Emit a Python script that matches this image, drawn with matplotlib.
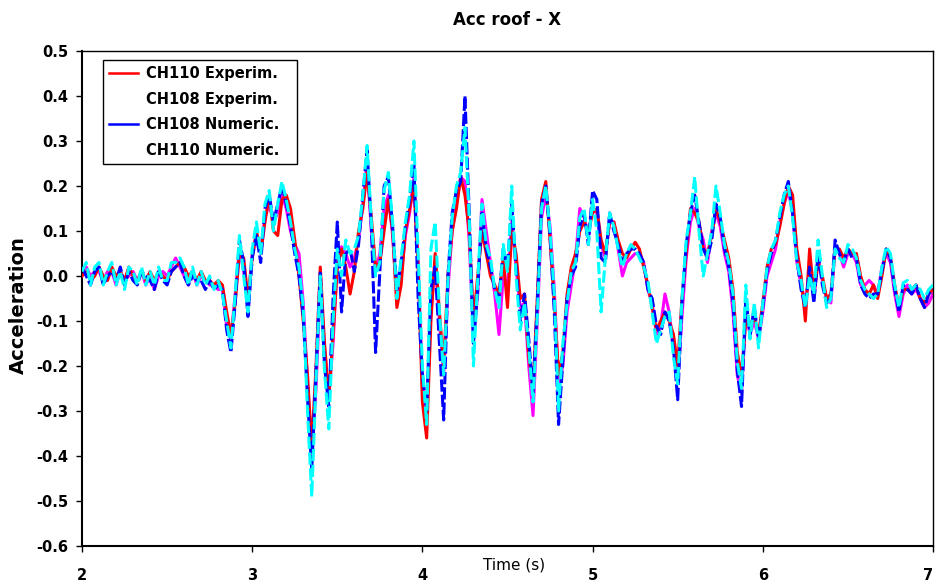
import numpy as np
import matplotlib
matplotlib.use("Agg")
import matplotlib.pyplot as plt
from matplotlib.lines import Line2D

title = "Acc roof - X"
xlabel = "Time (s)"
ylabel = "Acceleration"
series_names = ["CH110 Experim.", "CH108 Experim.", "CH108 Numeric.", "CH110 Numeric."]
xticks = [2, 3, 4, 5, 6, 7]
yticks = [0.5, 0.4, 0.3, 0.2, 0.1, 0.0, -0.1, -0.2, -0.3, -0.4, -0.5, -0.6]

t_start = 2.0
t_step = 0.025

ch110_exp = [
    0.00, 0.01, -0.01, 0.00, 0.02, 0.00, -0.01, 0.02, 0.00, 0.01, -0.01, 0.02, 0.00, -0.01, 0.01, -0.01, 0.01, -0.01, 0.01, 0.00,
    -0.01, 0.01, 0.02, 0.03, 0.02, 0.00, 0.01, -0.01, 0.01, -0.01, -0.01, -0.02, -0.01, -0.02, -0.08, -0.13, -0.06, 0.05, 0.04, -0.05,
    0.04, 0.10, 0.05, 0.12, 0.18, 0.10, 0.09, 0.17, 0.18, 0.15, 0.08, 0.00, -0.10, -0.22, -0.38, -0.20, 0.02, -0.15, -0.27, -0.13,
    0.02, 0.06, 0.02, -0.04, 0.01, 0.10, 0.15, 0.23, 0.13, 0.02, 0.03, 0.10, 0.17, 0.10, -0.07, -0.02, 0.10, 0.15, 0.20, 0.02,
    -0.28, -0.36, -0.10, 0.05, -0.08, -0.20, 0.00, 0.10, 0.15, 0.22, 0.18, 0.10, -0.10, 0.00, 0.10, 0.05, 0.00, -0.02, -0.04, 0.04,
    -0.07, 0.10, 0.05, -0.05, -0.04, -0.18, -0.25, -0.05, 0.17, 0.21, 0.08, -0.06, -0.22, -0.17, -0.04, 0.02, 0.05, 0.10, 0.12, 0.10,
    0.14, 0.15, 0.08, 0.05, 0.12, 0.12, 0.08, 0.05, 0.04, 0.06, 0.075, 0.06, 0.02, -0.02, -0.07, -0.12, -0.10, -0.08, -0.10, -0.13,
    -0.20, -0.05, 0.05, 0.15, 0.14, 0.12, 0.06, 0.05, 0.09, 0.15, 0.12, 0.08, 0.04, -0.03, -0.17, -0.22, -0.10, -0.11, -0.09, -0.13,
    -0.06, 0.02, 0.06, 0.07, 0.11, 0.16, 0.20, 0.18, 0.06, 0.00, -0.10, 0.06, -0.04, 0.03, 0.00, -0.05, -0.04, 0.06, 0.06, 0.04,
    0.06, 0.05, 0.05, 0.00, -0.03, -0.04, -0.02, -0.05, 0.00, 0.06, 0.04, -0.02, -0.07, -0.03, -0.03, -0.03, -0.02, -0.05, -0.06, -0.04,
    -0.03,
]

ch108_exp = [
    0.01, 0.02, 0.00, 0.01, 0.01, -0.01, 0.01, 0.01, -0.02, 0.01, -0.01, 0.00, 0.01, -0.01, 0.01, -0.02, 0.00, -0.03, 0.00, 0.01,
    0.00, 0.02, 0.04, 0.02, 0.00, -0.02, 0.01, -0.02, 0.00, -0.01, -0.02, -0.02, -0.03, -0.03, -0.11, -0.14, -0.04, 0.06, 0.01, -0.06,
    0.05, 0.08, 0.06, 0.13, 0.16, 0.12, 0.14, 0.18, 0.15, 0.10, 0.07, 0.05, -0.06, -0.24, -0.40, -0.25, -0.02, -0.16, -0.27, -0.15,
    0.03, 0.065, 0.05, 0.02, 0.04, 0.08, 0.16, 0.25, 0.10, 0.01, 0.05, 0.15, 0.18, 0.09, -0.05, 0.00, 0.09, 0.14, 0.22, 0.03,
    -0.24, -0.30, -0.08, 0.03, -0.10, -0.22, -0.03, 0.10, 0.16, 0.22, 0.21, 0.08, -0.14, -0.04, 0.17, 0.10, 0.03, -0.04, -0.13, 0.00,
    -0.02, 0.12, 0.02, -0.07, -0.06, -0.20, -0.31, -0.10, 0.13, 0.18, 0.11, -0.03, -0.24, -0.20, -0.08, -0.02, 0.04, 0.15, 0.13, 0.09,
    0.15, 0.14, 0.07, 0.04, 0.12, 0.12, 0.06, 0.00, 0.03, 0.04, 0.05, 0.05, 0.03, -0.03, -0.06, -0.13, -0.11, -0.04, -0.08, -0.16,
    -0.23, -0.09, 0.04, 0.12, 0.15, 0.11, 0.08, 0.03, 0.10, 0.14, 0.11, 0.05, 0.01, -0.08, -0.22, -0.26, -0.08, -0.13, -0.10, -0.14,
    -0.08, 0.00, 0.03, 0.06, 0.12, 0.16, 0.19, 0.14, 0.03, -0.02, -0.06, 0.01, -0.05, 0.04, -0.01, -0.05, -0.06, 0.06, 0.05, 0.02,
    0.05, 0.05, 0.03, -0.02, -0.02, -0.01, -0.02, -0.04, 0.02, 0.05, 0.03, -0.04, -0.09, -0.04, -0.02, -0.04, -0.03, -0.05, -0.07, -0.06,
    -0.04,
]

ch108_num = [
    0.02, 0.00, -0.02, 0.01, 0.02, -0.02, 0.00, 0.01, -0.01, 0.02, -0.02, 0.01, -0.01, -0.02, 0.01, 0.00, -0.01, -0.03, 0.01, -0.01,
    -0.02, 0.01, 0.02, 0.03, 0.00, -0.02, 0.00, -0.01, -0.01, -0.03, -0.01, -0.03, -0.02, -0.03, -0.12, -0.17, -0.06, 0.08, 0.03, -0.09,
    0.04, 0.09, 0.03, 0.15, 0.18, 0.12, 0.16, 0.20, 0.16, 0.11, 0.05, 0.00, -0.09, -0.27, -0.43, -0.21, 0.01, -0.20, -0.29, -0.05,
    0.12, -0.08, 0.05, 0.06, 0.01, 0.07, 0.18, 0.28, 0.11, -0.17, 0.01, 0.20, 0.22, 0.11, -0.03, 0.03, 0.11, 0.17, 0.25, -0.05,
    -0.22, -0.30, -0.03, 0.02, -0.15, -0.32, 0.00, 0.14, 0.19, 0.21, 0.40, 0.14, -0.15, -0.03, 0.14, 0.06, 0.02, -0.03, -0.05, 0.06,
    0.02, 0.16, 0.02, -0.10, -0.04, -0.14, -0.26, -0.06, 0.16, 0.20, 0.09, -0.08, -0.33, -0.19, -0.05, 0.00, 0.02, 0.11, 0.14, 0.07,
    0.19, 0.17, 0.04, 0.03, 0.14, 0.10, 0.07, 0.03, 0.05, 0.06, 0.06, 0.05, 0.03, -0.03, -0.05, -0.11, -0.13, -0.08, -0.10, -0.16,
    -0.275, -0.06, 0.07, 0.14, 0.18, 0.12, 0.06, 0.04, 0.08, 0.16, 0.13, 0.06, 0.02, -0.06, -0.21, -0.29, -0.05, -0.13, -0.07, -0.14,
    -0.07, 0.01, 0.05, 0.08, 0.13, 0.18, 0.21, 0.14, 0.04, -0.03, -0.07, 0.02, -0.06, 0.05, -0.02, -0.06, -0.05, 0.08, 0.05, 0.03,
    0.06, 0.04, 0.04, -0.02, -0.04, -0.05, -0.04, -0.04, 0.01, 0.06, 0.04, -0.03, -0.08, -0.02, -0.03, -0.04, -0.02, -0.05, -0.07, -0.04,
    -0.03,
]

ch110_num = [
    0.01, 0.03, -0.02, 0.02, 0.03, -0.02, 0.01, 0.03, -0.02, 0.01, -0.03, 0.02, 0.01, -0.02, 0.02, -0.02, 0.01, -0.02, 0.02, -0.01,
    -0.01, 0.03, 0.03, 0.04, 0.02, -0.02, 0.02, -0.02, 0.01, -0.02, 0.00, -0.03, -0.01, -0.04, -0.10, -0.16, -0.04, 0.09, 0.00, -0.08,
    0.06, 0.12, 0.05, 0.16, 0.19, 0.10, 0.16, 0.21, 0.17, 0.12, 0.06, 0.02, -0.07, -0.30, -0.49, -0.23, 0.00, -0.21, -0.34, -0.10,
    0.06, 0.00, 0.08, 0.05, 0.06, 0.09, 0.18, 0.29, 0.12, 0.00, 0.03, 0.19, 0.23, 0.12, -0.05, 0.04, 0.12, 0.18, 0.30, 0.05,
    -0.20, -0.33, 0.06, 0.12, -0.08, -0.22, -0.01, 0.13, 0.20, 0.23, 0.33, 0.13, -0.20, -0.01, 0.16, 0.07, 0.04, -0.03, -0.07, 0.07,
    0.01, 0.20, 0.00, -0.12, -0.06, -0.16, -0.28, -0.09, 0.15, 0.20, 0.10, -0.04, -0.30, -0.15, -0.06, 0.01, 0.03, 0.13, 0.15, 0.07,
    0.17, 0.10, -0.08, 0.04, 0.14, 0.11, 0.06, 0.02, 0.05, 0.07, 0.06, 0.04, 0.02, -0.01, -0.08, -0.15, -0.12, -0.09, -0.08, -0.18,
    -0.24, -0.05, 0.08, 0.14, 0.22, 0.10, 0.00, 0.05, 0.10, 0.20, 0.14, 0.07, 0.03, -0.04, -0.19, -0.25, -0.02, -0.14, -0.06, -0.16,
    -0.06, 0.02, 0.06, 0.08, 0.14, 0.18, 0.20, 0.13, 0.03, -0.01, -0.07, 0.00, -0.04, 0.08, 0.00, -0.07, -0.05, 0.06, 0.04, 0.03,
    0.07, 0.06, 0.04, -0.01, -0.03, -0.04, -0.05, -0.04, 0.02, 0.065, 0.05, -0.02, -0.07, -0.015, -0.01, -0.03, -0.02, -0.03, -0.05, -0.03,
    -0.02,
]

n = len(ch110_exp)
time = t_start + t_step * np.arange(n)

fig = plt.figure(figsize=(9.35, 5.82), dpi=100)
ax = fig.add_axes([82 / 935, 1 - 546 / 582, 851 / 935, 495 / 582])

bold = dict(family="DejaVu Sans", weight="bold")
lw = 2.2
ax.plot(time, ch108_exp, color="#FF00FF", lw=lw, zorder=2)
ax.plot(time, ch110_exp, color="#FF0000", lw=lw, zorder=3)
ax.plot(time, ch108_num, color="#0000FF", lw=lw, ls=(0, (4, 1)), zorder=4)
ax.plot(time, ch110_num, color="#00FFFF", lw=lw, ls=(0, (4, 1.2)), zorder=5)

ax.set_xlim(2, 7)
ax.set_ylim(-0.6, 0.5)
ax.set_xticks(xticks)
xtl = ax.set_xticklabels([str(v) for v in xticks], fontdict=dict(size=10.5, **bold))
xtl[-1].set_horizontalalignment("right")
ax.set_yticks(yticks)
ax.set_yticklabels([f"{v:.1f}" for v in yticks], fontdict=dict(size=10.5, **bold))
ax.tick_params(axis="x", direction="out", length=4, width=1, pad=12)
ax.tick_params(axis="y", direction="out", length=4, width=1, pad=6)

for side in ["left", "bottom"]:
    ax.spines[side].set_linewidth(1.5)
for side in ["top", "right"]:
    ax.spines[side].set_linewidth(1.0)

ax.set_title(title, fontsize=12, pad=19, **bold)
ax.set_xlabel(xlabel, family="DejaVu Sans", fontsize=11)
ax.xaxis.set_label_coords(0.508, -0.024)
ax.set_ylabel(ylabel, fontsize=14, **bold)
ax.yaxis.set_label_coords(-0.063, 0.487)

handles = [
    Line2D([], [], color="#FF0000", lw=1.8),
    Line2D([], [], color="white", lw=1.8),
    Line2D([], [], color="#0000FF", lw=1.8),
    Line2D([], [], color="white", lw=1.8),
]
leg_x0 = (103 - 82) / 851
leg_w = 194 / 851
leg_h = 105 / 495
leg_top = (546 - 60) / 495
leg = ax.legend(handles, series_names, loc="upper left",
                bbox_to_anchor=(leg_x0, leg_top - leg_h, leg_w, leg_h),
                mode="expand",
                prop=dict(family="DejaVu Sans", weight="bold", size=10.5),
                frameon=True, fancybox=False, edgecolor="black",
                borderaxespad=0, borderpad=0.42, handlelength=2.0,
                handletextpad=0.55, labelspacing=0.72)
leg.get_frame().set_linewidth(1.0)
leg.get_frame().set_alpha(1)

fig.savefig("out.png", dpi=100)
